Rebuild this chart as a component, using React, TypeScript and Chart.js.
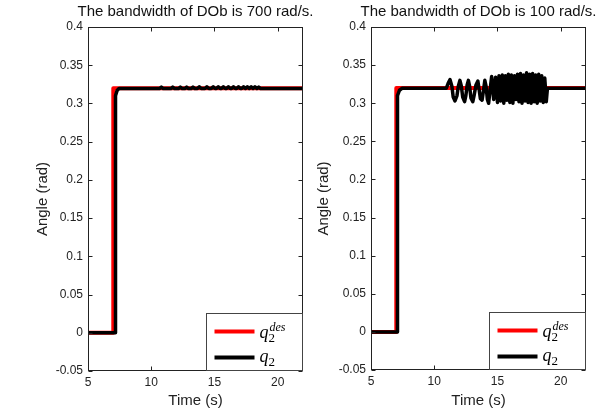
import React, { useEffect, useRef } from 'react';
import { Chart, registerables } from 'chart.js';

Chart.register(...registerables);

// ---------- data ----------
const refTime = [5, 7.0, 7.0, 22];
const refAngle = [0, 0, 0.32, 0.32];

const time700 = [5, 7.15, 7.15, 7.2, 7.3, 7.45, 10.65, 10.8, 10.95, 11.55, 11.7, 11.85, 12.15, 12.3, 12.45, 12.65, 12.8, 12.95, 13.15, 13.3, 13.45, 13.65, 13.8, 13.95, 14.25, 14.4, 14.55, 14.75, 14.9, 15.05, 15.15, 15.3, 15.45, 15.55, 15.7, 15.85, 15.95, 16.1, 16.25, 16.35, 16.5, 16.65, 16.75, 16.9, 17.05, 17.15, 17.3, 17.45, 17.6, 17.75, 17.9, 18.05, 18.2, 18.35, 18.5, 18.65, 22];
const angle700 = [0, 0, 0.29, 0.31, 0.317, 0.3195, 0.3195, 0.3215, 0.3195, 0.3195, 0.3215, 0.3195, 0.3195, 0.3215, 0.3195, 0.3195, 0.3215, 0.3195, 0.3195, 0.3215, 0.3195, 0.3195, 0.3218, 0.3195, 0.3195, 0.3218, 0.3195, 0.3195, 0.3218, 0.3195, 0.3195, 0.3218, 0.3195, 0.3195, 0.3218, 0.3195, 0.3195, 0.3218, 0.3195, 0.3195, 0.3218, 0.3195, 0.3195, 0.3218, 0.3195, 0.3195, 0.3218, 0.3195, 0.3218, 0.3195, 0.3218, 0.3195, 0.3218, 0.3195, 0.3215, 0.3195, 0.3195];

const time100 = [5, 7.07, 7.07, 7.12, 7.25, 7.45, 10.95, 11.1, 11.25, 11.4, 11.5, 11.64, 11.8, 11.9, 12.03, 12.15, 12.25, 12.4, 12.5, 12.6, 12.7, 12.8, 12.9, 13.05, 13.15, 13.3, 13.45, 13.55, 13.65, 13.78, 13.88, 14.0, 14.1, 14.2, 14.3, 14.4, 14.54, 14.7, 14.85, 15.0, 15.12, 15.25, 15.38, 15.5, 15.62, 15.74, 15.86, 15.98, 16.1, 16.22, 16.34, 16.46, 16.58, 16.7, 16.82, 16.94, 17.06, 17.18, 17.3, 17.42, 17.54, 17.66, 17.78, 17.9, 18.02, 18.14, 18.26, 18.38, 18.5, 18.62, 18.74, 18.86, 18.95, 22];
const angle100 = [0, 0, 0.29, 0.31, 0.317, 0.3195, 0.3195, 0.326, 0.331, 0.322, 0.308, 0.303, 0.310, 0.322, 0.330, 0.322, 0.308, 0.302, 0.310, 0.324, 0.330, 0.322, 0.307, 0.302, 0.310, 0.324, 0.329, 0.318, 0.306, 0.304, 0.315, 0.330, 0.322, 0.305, 0.300, 0.315, 0.335, 0.305, 0.334, 0.301, 0.336, 0.303, 0.337, 0.300, 0.336, 0.304, 0.338, 0.301, 0.337, 0.300, 0.336, 0.305, 0.338, 0.302, 0.339, 0.300, 0.337, 0.303, 0.340, 0.301, 0.338, 0.300, 0.339, 0.302, 0.337, 0.300, 0.338, 0.303, 0.336, 0.301, 0.333, 0.302, 0.3195, 0.3195];

const xTicks = [5, 10, 15, 20];
const yTickLabels = ['-0.05', '0', '0.05', '0.1', '0.15', '0.2', '0.25', '0.3', '0.35', '0.4'];
const titles = ['The bandwidth of DOb is 700 rad/s.', 'The bandwidth of DOb is 100 rad/s.'];
const xLabel = 'Time (s)';
const yLabel = 'Angle (rad)';
const legendBase = ['q', 'q'];
const legendSub = ['2', '2'];
const legendSup = ['des', ''];
const seriesColors = ['#ff0000', '#000000'];

const SANS = '"Liberation Sans", Arial, sans-serif';
const SERIF = '"Liberation Serif", "Times New Roman", serif';

type Panel = {
  title: string;
  time: number[];
  angle: number[];
  canvasLeft: number;
  canvasWidth: number;
  yAxisWidth: number;
  padRight: number;
  xAxisHeight: number;
  yTitlePad: number;
};

const panels: Panel[] = [
  { title: titles[0], time: time700, angle: angle700, canvasLeft: 0, canvasWidth: 340, yAxisWidth: 88, padRight: 37, xAxisHeight: 47, yTitlePad: 34 },
  { title: titles[1], time: time100, angle: angle100, canvasLeft: 304, canvasWidth: 304, yAxisWidth: 67, padRight: 22, xAxisHeight: 48, yTitlePad: 11 },
];

function decorPlugin(panel: Panel) {
  return {
    id: 'matlabDecor',
    afterDatasetsDraw(chart: any) {
      const ctx = chart.ctx as CanvasRenderingContext2D;
      const { left, right, top, bottom } = chart.chartArea;
      const xs = chart.scales.x;
      const ys = chart.scales.y;
      ctx.save();
      ctx.strokeStyle = '#222';
      ctx.lineWidth = 1;
      const L = Math.round(left) + 0.5, R = Math.round(right) - 0.5;
      const T = Math.round(top) + 0.5, B = Math.round(bottom) - 0.5;
      ctx.strokeRect(L, T, R - L, B - T);
      ctx.beginPath();
      const tl = 4;
      yTickLabels.forEach((lab) => {
        const y = Math.round(ys.getPixelForValue(Number(lab))) + 0.5;
        ctx.moveTo(L, y); ctx.lineTo(L + tl, y);
        ctx.moveTo(R, y); ctx.lineTo(R - tl, y);
      });
      xTicks.forEach((v) => {
        const x = Math.round(xs.getPixelForValue(v)) + 0.5;
        ctx.moveTo(x, B); ctx.lineTo(x, B - tl);
        ctx.moveTo(x, T); ctx.lineTo(x, T + tl);
      });
      ctx.stroke();
      ctx.fillStyle = '#111';
      ctx.font = `15px ${SANS}`;
      ctx.textAlign = 'center';
      ctx.textBaseline = 'alphabetic';
      ctx.fillText(panel.title, (left + right) / 2, 16);
      const w = 96, h = 57;
      const x0 = Math.round(right) - w - 0.5;
      const y0 = Math.round(bottom) - h - 0.5;
      ctx.fillStyle = '#fff';
      ctx.fillRect(x0, y0, w, h);
      ctx.strokeStyle = '#444';
      ctx.strokeRect(x0, y0, w, h);
      const rowsY = [y0 + 18, y0 + 44];
      const baseY = [y0 + 24.5, y0 + 48];
      for (let i = 0; i < 2; i++) {
        ctx.strokeStyle = seriesColors[i];
        ctx.lineWidth = 4;
        ctx.beginPath();
        ctx.moveTo(x0 + 8, rowsY[i]);
        ctx.lineTo(x0 + 48, rowsY[i]);
        ctx.stroke();
        ctx.fillStyle = '#000';
        ctx.textAlign = 'left';
        ctx.font = `italic 18px ${SERIF}`;
        const qx = x0 + 53;
        ctx.fillText(legendBase[i], qx, baseY[i]);
        const qw = ctx.measureText(legendBase[i]).width;
        ctx.font = `13px ${SERIF}`;
        ctx.fillText(legendSub[i], qx + qw, baseY[i] + 4);
        if (legendSup[i]) {
          ctx.font = `italic 12px ${SERIF}`;
          ctx.fillText(legendSup[i], qx + qw + 1, baseY[i] - 7);
        }
      }
      ctx.restore();
    },
  };
}

function ChartPanel({ panel }: { panel: Panel }) {
  const ref = useRef<HTMLCanvasElement | null>(null);
  useEffect(() => {
    document.body.style.margin = '0';
    const canvas = ref.current!;
    const chart = new Chart(canvas, {
      type: 'line',
      data: {
        datasets: [
          {
            label: 'q2des',
            data: refTime.map((t, i) => ({ x: t, y: refAngle[i] })),
            borderColor: seriesColors[0],
            borderWidth: 4,
            borderJoinStyle: 'round',
            pointRadius: 0,
            tension: 0,
            order: 2,
          },
          {
            label: 'q2',
            data: panel.time.map((t, i) => ({ x: t, y: panel.angle[i] })),
            borderColor: seriesColors[1],
            borderWidth: 3.5,
            borderJoinStyle: 'round',
            borderCapStyle: 'round',
            pointRadius: 0,
            tension: 0,
            order: 1,
          },
        ],
      },
      options: {
        animation: false,
        responsive: false,
        events: [],
        layout: { padding: { left: 0, right: panel.padRight, top: 27, bottom: 0 } },
        plugins: { legend: { display: false }, title: { display: false }, tooltip: { enabled: false } },
        scales: {
          x: {
            type: 'linear',
            min: 5,
            max: 22,
            grid: { display: false, drawTicks: false },
            border: { display: false },
            afterBuildTicks: (s: any) => { s.ticks = xTicks.map((v) => ({ value: v })); },
            afterFit: (s: any) => { s.height = panel.xAxisHeight; },
            ticks: { color: '#222', font: { size: 12, family: SANS }, padding: 4, maxRotation: 0, autoSkip: false },
            title: { display: true, text: xLabel, color: '#222', font: { size: 15, family: SANS }, padding: { top: 0, bottom: 8 } },
          },
          y: {
            type: 'linear',
            min: -0.05,
            max: 0.4,
            grid: { display: false, drawTicks: false },
            border: { display: false },
            afterBuildTicks: (s: any) => { s.ticks = yTickLabels.map((l) => ({ value: Number(l) })); },
            afterFit: (s: any) => { s.width = panel.yAxisWidth; },
            ticks: {
              color: '#222',
              font: { size: 12, family: SANS },
              padding: 5,
              autoSkip: false,
              callback: (_v: any, i: number) => yTickLabels[i],
            },
            title: { display: true, text: yLabel, color: '#222', font: { size: 15, family: SANS }, padding: { top: panel.yTitlePad, bottom: 0 } },
          },
        },
      },
      plugins: [decorPlugin(panel)],
    });
    return () => chart.destroy();
  }, [panel]);
  return (
    <canvas
      ref={ref}
      width={panel.canvasWidth}
      height={418}
      style={{ position: 'absolute', left: panel.canvasLeft, top: 0, display: 'block', width: panel.canvasWidth, height: 418 }}
    />
  );
}

export default function App() {
  return (
    <div style={{ position: 'relative', width: 608, height: 418, background: '#fff', overflow: 'hidden' }}>
      <ChartPanel panel={panels[0]} />
      <ChartPanel panel={panels[1]} />
    </div>
  );
}
